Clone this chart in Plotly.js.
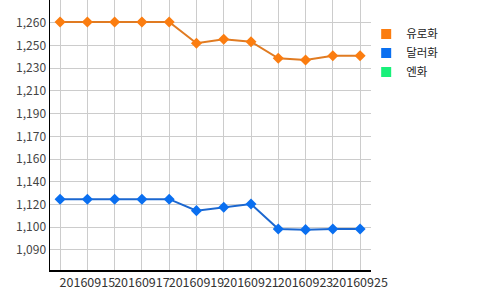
<!DOCTYPE html>
<html>
<head>
<meta charset="utf-8">
<script src="https://cdn.plot.ly/plotly-3.0.1.min.js"></script>
<style>html,body{margin:0;padding:0;background:#fff;}#chart{width:500px;height:290px;}</style>
</head>
<body>
<div id="chart"></div>
<script>
const dates = ['20160914','20160915','20160916','20160917','20160918','20160919','20160920','20160921','20160922','20160923','20160924','20160925'];
const euro = [1260.5,1260.5,1260.5,1260.5,1260.5,1244.6,1247.6,1245.8,1233.4,1232.1,1235.3,1235.3];
const dollar = [1128.0,1128.0,1128.0,1128.0,1128.0,1119.4,1121.9,1124.4,1105.7,1105.2,1105.7,1105.7];
const yen = [null,null,null,null,null,null,null,null,null,null,null,null];
const seriesNames = ['유로화','달러화','엔화'];
const yTickVals = [1090,1107,1124,1141,1158,1175,1192,1209,1226,1243,1260];
const yTickText = ['1,090','1,100','1,120','1,140','1,160','1,170','1,190','1,210','1,230','1,250','1,260'];
const xTickText = dates.map((d,i)=> i%2===1 ? d : '');

const lineCols = ['#e07b22','#1c67cf','#19d36b'];
const markCols = ['#fb7d10','#0a6ff0','#19f07a'];
const series = [euro, dollar, yen];

const traces = [];
series.forEach((s,i)=>{
  traces.push({x:dates,y:s,type:'scatter',mode:'lines+markers',name:seriesNames[i],showlegend:false,
    line:{color:lineCols[i],width:2},marker:{symbol:'diamond',size:8.5,color:markCols[i]},cliponaxis:false});
});
series.forEach((s,i)=>{
  traces.push({x:[null],y:[null],type:'scatter',mode:'markers',name:seriesNames[i],showlegend:true,
    marker:{symbol:'square',size:10,color:markCols[i]}});
});

const layout = {
  width:500,height:290,
  margin:{l:50,r:129,t:0,b:20,pad:0},
  paper_bgcolor:'#fff',plot_bgcolor:'#fff',
  font:{family:'"Noto Sans CJK KR", "Noto Sans", sans-serif',size:12,color:'#333'},
  xaxis:{type:'category',range:[-0.37,11.4],tickmode:'array',tickvals:dates,ticktext:xTickText,
    tickangle:0,showgrid:true,gridcolor:'#cccccc',gridwidth:1,showline:true,linecolor:'#000',linewidth:1.5,
    ticks:'',tickfont:{size:12.5,color:'#333'},zeroline:false,fixedrange:true},
  yaxis:{range:[1075,1277],tickmode:'array',tickvals:yTickVals,ticktext:yTickText,showgrid:true,
    gridcolor:'#cccccc',gridwidth:1,showline:true,linecolor:'#000',linewidth:1.5,ticks:'',
    tickfont:{size:12,color:'#444'},zeroline:false,fixedrange:true},
  legend:{x:0.985,xanchor:'left',y:0.928,yanchor:'top',font:{size:11.5,color:'#222'},
    itemwidth:30,tracegroupgap:0,bgcolor:'rgba(0,0,0,0)'},
  showlegend:true
};
Plotly.newPlot('chart',traces,layout,{displayModeBar:false,staticPlot:true});
</script>
</body>
</html>
